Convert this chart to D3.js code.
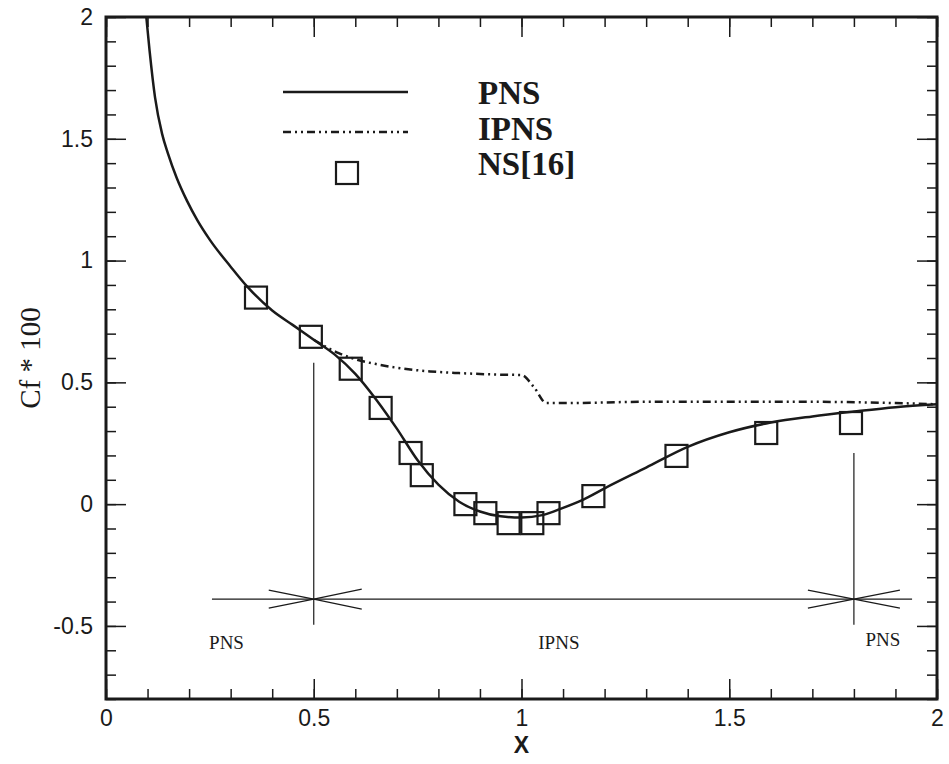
<!DOCTYPE html>
<html>
<head>
<meta charset="utf-8">
<script src="https://cdn.jsdelivr.net/npm/d3@7"></script>
<style>
  body { margin: 0; background: #fff; }
  svg text { fill: #1a1a1a; }
</style>
</head>
<body>
<svg id="chart" width="949" height="764"></svg>
<script>
// PNS solution (solid line)
var pnsX = [0.097, 0.105, 0.118, 0.135, 0.149, 0.17, 0.195, 0.22, 0.25, 0.3, 0.34, 0.4, 0.45, 0.5,
            0.55, 0.6, 0.65, 0.7, 0.75, 0.8, 0.85, 0.9, 0.95, 1.0, 1.05, 1.1, 1.15, 1.2, 1.3,
            1.4, 1.5, 1.6, 1.7, 1.8, 1.9, 2.0];
var pnsY = [2.0, 1.86, 1.67, 1.52, 1.44, 1.34, 1.245, 1.165, 1.085, 0.975, 0.893, 0.795, 0.735, 0.675,
            0.615, 0.535, 0.43, 0.31, 0.18, 0.08, 0.01, -0.03, -0.05, -0.055, -0.045, -0.015, 0.02, 0.065, 0.15,
            0.235, 0.295, 0.335, 0.36, 0.38, 0.398, 0.41];

// IPNS solution (dash-dot-dot line)
var ipnsX = [0.5, 0.53, 0.56, 0.6, 0.65, 0.7, 0.78, 0.85, 0.94, 1.0, 1.03, 1.06, 1.1, 1.3, 1.5, 1.7, 1.9, 2.0];
var ipnsY = [0.675, 0.645, 0.62, 0.595, 0.575, 0.56, 0.545, 0.538, 0.532, 0.53, 0.48, 0.415, 0.415, 0.42, 0.42, 0.42, 0.415, 0.41];

// NS[16] reference points (squares)
var nsX = [0.361, 0.493, 0.589, 0.661, 0.733, 0.760, 0.865, 0.913, 0.969, 1.026, 1.065, 1.173, 1.373, 1.589, 1.793];
var nsY = [0.848, 0.687, 0.556, 0.395, 0.210, 0.119, 0.0, -0.037, -0.078, -0.078, -0.037, 0.033, 0.198, 0.292, 0.333];

// axis ticks
var xMajor = [0, 0.5, 1, 1.5, 2];
var xLabels = ["0", "0.5", "1", "1.5", "2"];
var yMajor = [-0.5, 0, 0.5, 1, 1.5, 2];
var yLabels = ["-0.5", "0", "0.5", "1", "1.5", "2"];

// legend
var legendNames = ["PNS", "IPNS", "NS[16]"];

// region marks: switch positions along x and the labels between them
var switchX = [0.5, 1.8];
var switchTop = [0.58, 0.21];
var regionNames = ["PNS", "IPNS", "PNS"];
var regionX = [0.29, 1.09, 1.87];

var margin = {top: 17, right: 12, bottom: 65, left: 106},
    width = 949 - margin.left - margin.right,
    height = 764 - margin.top - margin.bottom;

var ink = "#1a1a1a";

var svg = d3.select("#chart");
var g = svg.append("g").attr("transform", "translate(" + margin.left + "," + margin.top + ")");

var x = d3.scaleLinear().domain([0, 2]).range([0, width]);
var y = d3.scaleLinear().domain([-0.8, 2]).range([height, 0]);

var xMinor = d3.range(0, 2.001, 0.1).map(function(v) { return +v.toFixed(1); });
var yMinor = d3.range(-0.8, 2.001, 0.1).map(function(v) { return +v.toFixed(1); });

// ticks on all four sides, pointing inward
function tickLayer(axis, transform) {
    var a = g.append("g").attr("transform", transform).call(axis);
    a.select(".domain").remove();
    a.selectAll("line").attr("stroke", ink).attr("stroke-width", 1.5);
    return a;
}
tickLayer(d3.axisBottom(x).tickValues(xMinor).tickSize(-10).tickFormat(""), "translate(0," + height + ")");
tickLayer(d3.axisTop(x).tickValues(xMinor).tickSize(-10).tickFormat(""), "translate(0,0)");
tickLayer(d3.axisLeft(y).tickValues(yMinor).tickSize(-10).tickFormat(""), "translate(0,0)");
tickLayer(d3.axisRight(y).tickValues(yMinor).tickSize(-10).tickFormat(""), "translate(" + width + ",0)");
tickLayer(d3.axisTop(x).tickValues(xMajor).tickSize(-20).tickFormat(""), "translate(0,0)");
tickLayer(d3.axisRight(y).tickValues(yMajor).tickSize(-20).tickFormat(""), "translate(" + width + ",0)");

var bx = tickLayer(d3.axisBottom(x).tickValues(xMajor).tickSize(-20).tickPadding(11)
    .tickFormat(function(d, i) { return xLabels[i]; }), "translate(0," + height + ")");
bx.selectAll("text").attr("font-family", "Liberation Sans, Arial, sans-serif").attr("font-size", 23)
    .attr("fill", ink);

var ly = tickLayer(d3.axisLeft(y).tickValues(yMajor).tickSize(-20).tickPadding(13)
    .tickFormat(function(d, i) { return yLabels[i]; }), "translate(0,0)");
ly.selectAll("text").attr("font-family", "Liberation Sans, Arial, sans-serif").attr("font-size", 23)
    .attr("fill", ink);

// frame
g.append("rect").attr("width", width).attr("height", height)
    .attr("fill", "none").attr("stroke", ink).attr("stroke-width", 3);

// axis titles
svg.append("text").attr("x", margin.left + x(1)).attr("y", 753)
    .attr("text-anchor", "middle").attr("font-family", "Liberation Sans, Arial, sans-serif")
    .attr("font-weight", "bold").attr("font-size", 23).text("X");
svg.append("text").attr("transform", "translate(40," + (margin.top + y(0.6)) + ") rotate(-90)")
    .attr("text-anchor", "middle").attr("font-family", "Liberation Serif, Times New Roman, serif")
    .attr("font-size", 29).text("Cf * 100");

// curves
var line = d3.line().x(function(d) { return x(d[0]); }).y(function(d) { return y(d[1]); })
    .curve(d3.curveMonotoneX);

var plot = g.append("g");
plot.append("path").datum(d3.zip(ipnsX, ipnsY)).attr("d", line)
    .attr("fill", "none").attr("stroke", ink).attr("stroke-width", 2.5)
    .attr("stroke-dasharray", "8,4,2,4,2,4");
plot.append("path").datum(d3.zip(pnsX, pnsY)).attr("d", line)
    .attr("fill", "none").attr("stroke", ink).attr("stroke-width", 2.5);

var sq = 22;
plot.selectAll(".ns").data(d3.zip(nsX, nsY)).enter().append("rect")
    .attr("class", "ns")
    .attr("x", function(d) { return x(d[0]) - sq / 2; })
    .attr("y", function(d) { return y(d[1]) - sq / 2; })
    .attr("width", sq).attr("height", sq)
    .attr("fill", "none").attr("stroke", ink).attr("stroke-width", 2.2);

// region switches with arrows
var arrowY = -0.39;
var ann = g.append("g").attr("stroke", ink).attr("stroke-width", 1.2).attr("fill", "none");
switchX.forEach(function(sx, i) {
    ann.append("line").attr("x1", x(sx)).attr("x2", x(sx))
        .attr("y1", y(switchTop[i])).attr("y2", y(-0.495));
});
ann.append("line").attr("x1", x(0.255)).attr("x2", x(1.94)).attr("y1", y(arrowY)).attr("y2", y(arrowY));

function arrowHead(tx, dir, len, spread) {
    var px = x(tx), py = y(arrowY);
    ann.append("path")
        .attr("d", "M" + (px + dir * len) + "," + (py - spread) + "L" + px + "," + py +
                   "L" + (px + dir * len) + "," + (py + spread));
}
arrowHead(switchX[0], -1, 45, 9);
arrowHead(switchX[0], 1, 48, 10);
arrowHead(switchX[1], -1, 46, 9);
arrowHead(switchX[1], 1, 46, 9);

g.selectAll(".region").data(regionNames).enter().append("text")
    .attr("class", "region")
    .attr("x", function(d, i) { return x(regionX[i]); })
    .attr("y", function(d, i) { return y(-0.6) + (i === 2 ? -4 : -1); })
    .attr("text-anchor", "middle")
    .attr("font-family", "Liberation Serif, Times New Roman, serif")
    .attr("font-size", 19)
    .text(function(d) { return d; });

// legend
var lg = svg.append("g");
var rowY = [92, 132, 173];
var textY = [104, 140, 175];
lg.append("line").attr("x1", 283).attr("x2", 408).attr("y1", rowY[0]).attr("y2", rowY[0])
    .attr("stroke", ink).attr("stroke-width", 2.5);
lg.append("line").attr("x1", 283).attr("x2", 408).attr("y1", rowY[1]).attr("y2", rowY[1])
    .attr("stroke", ink).attr("stroke-width", 2.5).attr("stroke-dasharray", "8,4,2,4,2,4");
lg.append("rect").attr("x", 347 - sq / 2).attr("y", rowY[2] - sq / 2).attr("width", sq).attr("height", sq)
    .attr("fill", "none").attr("stroke", ink).attr("stroke-width", 2.2);
lg.selectAll("text").data(legendNames).enter().append("text")
    .attr("x", 478).attr("y", function(d, i) { return textY[i]; })
    .attr("font-family", "Liberation Serif, Times New Roman, serif")
    .attr("font-weight", "bold").attr("font-size", 33)
    .text(function(d) { return d; });
</script>
</body>
</html>
